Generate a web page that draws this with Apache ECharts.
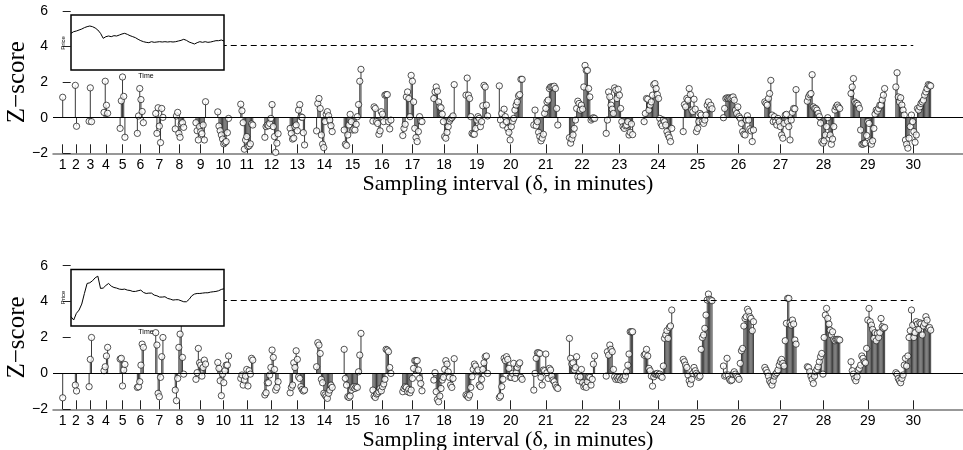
<!DOCTYPE html>
<html>
<head>
<meta charset="utf-8">
<script src="https://cdn.jsdelivr.net/npm/echarts@6/dist/echarts.min.js"></script>
<style>
html,body{margin:0;padding:0;background:#fff;}
#chart{width:963px;height:450px;}
</style>
</head>
<body>
<div id="chart"></div>
<script>
// ---------------- data ----------------
const intervals = ['1','2','3','4','5','6','7','8','9','10','11','12','13','14','15','16','17','18','19','20','21','22','23','24','25','26','27','28','29','30'];
const yTicks = [-2, 0, 2, 4, 6];
const thresholdZ = 4.1;

const topZ = [
  [1.15],
  [1.82, -0.48],
  [-0.2, 1.68, -0.22],
  [0.3, 2.05, 0.7, 0.25],
  [-0.6, 0.95, 2.29, 1.2, -1.1],
  [-0.88, 0.1, 1.64, 1.02, 0.35, -0.28],
  [0.24, -0.88, 0.56, -0.47, -1.4, 0.52, 0.02],
  [-0.63, 0.1, 0.3, -0.88, -1.1, -0.35, -0.28, -0.54],
  [-0.28, -0.73, -1.25, -0.5, -0.78, -0.9, -0.41, -1.25, 0.9],
  [0.33, -0.47, -0.73, -0.97, -1.2, -1.47, -1.4, -1.34, -0.84, -0.04],
  [0.76, 0.39, -0.28, -1.77, -1.25, -1.06, -1.62, -1.58, -1.47, -0.35, -0.41],
  [-1.1, -0.5, -0.41, -0.45, -0.32, -0.04, 0.74, -0.5, -1.06, -1.95, -1.43, -0.9],
  [-0.6, -0.88, -1.2, -1.15, -0.5, -0.41, -0.73, 0.43, 0.74, 0.05, 0.02, -0.84, -1.53],
  [-0.74, 0.8, 1.08, 0.52, -0.97, -1.49, -1.68, -0.22, 0.19, 0.34, 0.11, -0.13, -0.45, -0.78],
  [-0.69, -1.49, -1.56, -0.97, -0.41, 0.19, -0.22, -0.69, -0.63, -0.69, -0.37, 0.06, 0.74, 2.05, 2.72],
  [-0.19, 0.61, 0.52, -0.22, -0.32, -0.93, -0.74, 0.34, 0.2, -0.22, 1.27, 1.3, 1.3, -0.22, -0.63, -0.13],
  [-1.0, -0.6, -0.37, 1.17, 1.45, 1.08, 0.06, 2.38, 2.05, 0.89, -0.6, -1.12, -1.34, -0.78, 0.06, -0.19, -0.22],
  [1.08, 1.45, 1.73, 1.49, 0.89, 0.61, 0.56, 0.2, -0.22, -1.06, -1.15, -0.82, -0.5, -0.19, -0.07, 0.0, 0.1, 1.86],
  [1.27, 2.23, 1.27, 1.08, 0.06, -0.88, -0.93, -0.93, -0.6, -0.13, 0.06, -0.04, -0.5, -0.22, 0.67, 1.82, 1.73, 0.71, 0.1],
  [1.79, -0.13, 0.24, -0.41, 0.48, 0.06, -0.22, -0.6, -0.82, -1.25, -0.5, -0.2, -0.04, 0.43, 0.71, 0.89, 1.23, 1.3, 2.16, 2.16],
  [-0.41, 0.43, -0.45, -0.22, -0.82, -1.06, -1.3, -1.15, -0.93, 0.24, 0.52, 0.89, 0.99, 1.64, 1.73, 1.73, 1.73, 1.77, 1.64, 0.52, -0.41],
  [-1.12, -1.43, -1.19, -0.97, -0.6, -0.13, 0.52, 0.93, 0.8, 0.43, 0.71, 0.48, 1.73, 2.94, 2.66, 2.66, 1.64, 1.17, -0.13, -0.04, 0, -0.04],
  [-0.88, -0.13, 1.45, 1.17, 0.71, 0.48, 0.24, 1.68, 1.55, 1.08, 1.6, 1.27, 0.52, -0.22, -0.5, -0.6, -0.45, -0.41, -0.22, -0.97, -0.82, -0.35, -0.95],
  [-0.22, 0.24, 1.08, 1.04, 0.43, 0.71, 0.89, 1.27, 1.86, 1.92, 1.64, 1.3, 1.08, -0.04, -0.32, -0.45, -0.13, -0.22, -0.41, -0.78, -0.97, -1.12, -1.34, -0.6],
  [-0.78, 0.74, 0.61, 1.08, 0.99, 1.64, 1.3, 0.43, 0.34, 1.04, 0.48, -0.78, -0.6, -0.22, 0.24, 0.15, -0.22, -0.32, -0.13, 0.15, 0.71, 0.89, 0.56, 0.7, 0.5],
  [0, 0.52, 1.08, 1.12, 1.08, 1.12, 1.08, 1.12, 1.17, 0.99, 0.43, 0.24, 0.61, 0.06, -0.04, -0.32, -0.78, -0.93, -0.97, -0.13, 0.11, -0.13, -0.63, -0.74, -1.34, -0.69],
  [0.89, 0.8, 0.71, 1.08, 1.36, 2.1, 0.15, -0.22, 0.06, -0.22, -0.41, -0.04, -0.22, -0.5, -0.97, -1.15, -0.32, 0.15, 0.19, -0.22, -0.5, -1.25, -0.13, 0.3, 0.52, 0.5, 1.58],
  [0.93, 1.17, 1.3, 1.36, 2.42, 0.61, 0.52, 0.52, 0.43, 0.24, 0.06, -0.3, -1.34, -1.43, -1.3, -0.97, -0.5, 0, -1.15, -0.97, -1.49, -1.2, -0.5, 0.43, 0.61, 0.71, 0.6, 0.52],
  [1.36, 1.73, 2.2, 0.89, 0.8, 0.8, 0.71, 0.52, -0.69, -1.49, -1.49, -1.43, -1.43, -1.0, -0.22, -0.32, -1.38, -1.49, -1.3, -0.6, 0.2, 0.43, 0.37, 0.52, 0.71, 0.71, 1.0, 1.27, 1.64],
  [1.73, 2.53, 1.17, 0.89, 1.12, 0.71, 0.43, 0.15, -1.25, -1.49, -1.71, -1.15, -0.5, 0.15, -0.22, -0.78, -1.38, -0.97, 0.52, 0.43, 0.61, 0.8, 0.89, 0.99, 1.27, 1.45, 1.64, 1.86, 1.82, 1.79]
];

const bottomZ = [
  [-1.36],
  [-0.65, -0.98],
  [-0.74, 0.78, 2.0],
  [0.15, 0.37, 0.97, 1.45],
  [0.8, 0.84, -0.7, 0.19, 0.5],
  [-0.78, -0.74, -0.46, 0.46, 1.63, 1.45],
  [2.27, 1.58, -1.11, -1.3, -0.22, 0.93, 2.0],
  [-0.93, -1.52, -0.28, 1.45, 2.19, 2.9, 0.89, -0.04],
  [-0.33, 0.04, 1.39, 0.59, 0.46, -0.15, 0.33, 0.74, 0.52],
  [0.61, 0.28, -0.41, -1.24, -0.04, -0.52, 0.15, 0.46, 0.46, 0.97],
  [-0.28, -0.09, -0.65, -0.37, -0.15, 0.22, -0.7, 0.15, -0.04, 0.84, 0.74],
  [-1.2, -1.08, -0.52, -0.52, -0.09, 0.33, 1.3, 0.89, 0.22, -0.93, -0.78, -0.46],
  [-1.08, -0.78, -0.65, 0.59, 0.33, 1.26, 0.78, -0.19, -0.28, -0.74, -0.89, -0.98, -0.93],
  [0.37, 1.71, 1.58, 1.11, -0.33, -0.52, -1.11, -1.2, -1.3, -1.39, -1.11, -0.93, -0.65, -0.78],
  [1.34, -0.28, -0.65, -1.3, -1.34, -1.26, -0.93, -0.78, -0.74, -0.84, -0.74, -0.78, 0.09, 1.02, 2.23],
  [-0.93, -1.26, -1.34, -1.15, -1.11, -1.02, -0.84, -0.97, -0.74, -0.59, -0.33, 1.34, 1.3, 1.21, 0.33, 0],
  [-1.02, -0.84, -0.74, -0.78, -1.02, -0.89, -1.08, -0.93, -0.28, 0.28, 0.71, 0.71, 0.71, 0.19, -0.28, -0.56, -0.97],
  [-0.37, 0.04, -1.02, -1.45, -1.58, -1.26, -0.84, -0.37, -0.22, 0.22, 0.71, 0.52, 0.09, -0.22, -0.65, -0.78, -0.28, 0.82],
  [-1.2, -1.26, -1.34, -1.2, -0.78, -0.19, 0.22, 0.52, 0.41, 0.09, 0.19, -0.65, -0.74, -0.33, 0.22, 0.59, 0.93, 0.97, 0],
  [-1.34, -1.26, -0.74, -0.33, 0.84, 0.71, 0.93, 0.78, 0.28, -0.22, -0.22, 0, 0.56, -0.28, 0.04, 0.33, 0.52, 0.59, -0.22, -0.33],
  [-0.93, 0, 0.84, 1.15, 1.15, 1.11, -0.22, -0.65, 0.19, 0.15, 1.08, 0.04, -0.28, 0.28, 0.19, -0.15, -0.37, -0.46, -0.65, -0.78, -0.84],
  [1.95, 0.84, 0.52, 0.59, 0.19, 0.33, 0.93, -0.19, -0.41, -0.19, 0.22, -0.52, -0.74, -0.65, -0.78, -0.46, -0.19, -0.22, -0.65, -0.33, 0.52, 0.97],
  [-0.15, 1.21, 1.02, 1.58, 1.34, 1.21, 0.22, -0.19, -0.33, -0.22, -0.33, -0.22, -0.37, -0.28, -0.22, -0.33, -0.15, 0.09, 0.46, 1.08, 2.32, 2.32, 2.32],
  [1.02, 1.08, 1.34, 0.97, 0.28, 0.15, -0.15, -0.71, -0.19, -0.04, -0.04, 0, -0.09, -0.04, -0.15, -0.22, 0.41, 1.95, 2.14, 2.38, 1.95, 2.56, 2.64, 3.53],
  [0.78, 0.65, 0.46, 0.33, -0.09, -0.41, -0.59, -0.33, 0, 0.33, 0.15, 0, -0.09, -0.22, -0.15, 1.34, 2.0, 2.14, 2.51, 3.25, 4.09, 4.42, 4.13, 4.09, 4.05],
  [0.41, -0.15, -0.09, 0.84, -0.09, -0.33, -0.41, -0.37, -0.04, 0.09, -0.04, -0.15, -0.22, -0.33, 0.56, 1.26, 1.39, 2.64, 3.06, 3.16, 3.57, 3.44, 3.16, 3.06, 2.38, 2.88],
  [0.33, 0.19, 0.04, -0.15, -0.41, -0.52, -0.65, -0.41, -0.15, -0.04, 0.04, 0.19, 0.46, 0.65, 0.78, 0.56, 0.41, 1.82, 2.79, 4.18, 4.18, 2.82, 2.69, 2.97, 2.75, 1.86, 1.63],
  [0.37, 0.33, 0.09, -0.15, -0.33, -0.56, -0.15, 0.09, 0.22, 0.37, 0.65, 0.93, 1.11, -0.04, 2.0, 3.25, 3.62, 3.06, 2.75, 2.41, 2.14, 2.32, 1.89, 1.82, 1.89, 1.89, 1.89, 1.86],
  [0.65, 0.15, -0.04, -0.28, -0.41, -0.19, 0.19, 0.28, 0.46, 0.97, 0.84, 0.65, 0.59, 1.39, 2.97, 3.62, 2.88, 2.69, 2.45, 1.95, 2.27, 1.82, 2.23, 2.0, 2.27, 3.06, 2.6, 2.51, 2.56],
  [0.04, -0.04, -0.28, -0.41, -0.52, -0.28, -0.09, 0.46, 0.84, 0.41, 0.97, 2.0, 2.38, 3.53, 2.69, 2.0, 2.27, 2.88, 2.75, 2.45, 2.82, 2.75, 2.14, 2.64, 2.79, 3.16, 2.97, 2.51, 2.56, 2.41]
];

const topInsetPrice = [66.7, 69.7, 70.9, 72.7, 74.5, 77.0, 78.8, 80.0, 78.8, 76.4, 72.7, 66.7, 57.6, 60.6, 61.8, 60.6, 62.4, 61.8, 63.6, 65.5, 66.7, 64.8, 62.4, 60.6, 58.8, 55.8, 53.3, 51.5, 50.3, 49.7, 51.5, 50.3, 50.9, 51.5, 50.9, 51.5, 50.9, 51.5, 50.9, 51.5, 52.7, 53.9, 55.8, 53.9, 50.9, 49.1, 47.3, 49.7, 51.5, 50.3, 51.5, 50.3, 50.9, 52.1, 53.3, 53.3, 54.5, 52.7];
const bottomInsetPrice = [16.5, 10.6, 22.4, 28.2, 38.8, 57.6, 75.3, 76.5, 80.0, 85.3, 88.2, 66.5, 67.1, 71.8, 75.3, 70.6, 68.2, 67.1, 65.3, 64.7, 65.3, 63.5, 62.9, 61.2, 61.2, 62.4, 63.5, 59.4, 57.6, 58.2, 58.2, 54.7, 53.5, 51.2, 51.2, 51.8, 48.8, 47.6, 45.9, 46.5, 46.5, 44.7, 42.9, 42.9, 47.1, 53.5, 56.5, 57.6, 57.6, 58.2, 58.8, 58.8, 60.0, 60.6, 61.2, 62.4, 64.7, 65.9];

// ---------------- layout ----------------
const W = 963;
const GL = 53;                     // grid left (px)
const FIRST_CENTER_PX = 62.7;      // px position of interval 1
const GAP_A = 12.08, GAP_B = 1.15; // spacing between consecutive group centres
const STEP = 1.2;                  // spacing between stems inside a group
const centers = [];
(function(){ let c = 0; for (let k = 1; k <= intervals.length; k++) { centers.push(c); c += GAP_A + GAP_B * k; } })();
const xMin = GL - FIRST_CENTER_PX;
const xMax = xMin + (W - GL);

function buildPoints(groups) {
  const pts = [];
  groups.forEach((vals, gi) => {
    const n = vals.length;
    vals.forEach((v, j) => { pts.push([centers[gi] + (j - (n - 1) / 2) * STEP, v]); });
  });
  return pts;
}
const topPts = buildPoints(topZ);
const botPts = buildPoints(bottomZ);

const panels = [
  { top: 11, height: 142.3, pts: topPts, inset: { left: 71, top: 15, width: 153, height: 55 }, price: topInsetPrice },
  { top: 265.7, height: 143.6, pts: botPts, inset: { left: 71, top: 269.5, width: 153, height: 56.5 }, price: bottomInsetPrice }
];

const sansFont = "'Liberation Sans', Arial, Helvetica, sans-serif";
const serifFont = "'Liberation Serif', 'Times New Roman', serif";

function labelFor(v) {
  for (let i = 0; i < centers.length; i++) if (Math.abs(centers[i] - v) < 0.01) return intervals[i];
  return '';
}

const grid = [], xAxis = [], yAxis = [], series = [], graphic = [];
panels.forEach((p, pi) => {
  grid.push({ left: GL, right: 0, top: p.top, height: p.height, containLabel: false, outerBoundsMode: 'none' });
  xAxis.push({
    type: 'value', gridIndex: pi, min: xMin, max: xMax,
    name: 'Sampling interval (δ, in minutes)', nameLocation: 'middle', nameGap: 12,
    nameTextStyle: { fontFamily: serifFont, fontSize: 22, color: '#000' },
    axisLine: { show: true, onZero: false, lineStyle: { color: '#777', width: 1.5 } },
    axisTick: { show: true, inside: true, length: 9, customValues: centers, lineStyle: { color: '#222', width: 1 } },
    axisLabel: { show: true, customValues: centers, formatter: labelFor, margin: 5, fontFamily: sansFont, fontSize: 14, color: '#000' },
    splitLine: { show: false }
  });
  yAxis.push({
    type: 'value', gridIndex: pi, min: yTicks[0], max: yTicks[yTicks.length - 1], interval: 2,
    name: 'Z−score', nameLocation: 'middle', nameGap: 23, nameMoveOverlap: false,
    nameTextStyle: { fontFamily: serifFont, fontSize: 25, color: '#000' },
    axisLine: { show: false },
    axisTick: { show: true, inside: true, length: 8, lineStyle: { color: '#222' } },
    axisLabel: { margin: 5, fontFamily: sansFont, fontSize: 14, color: '#000',
      formatter: v => (v < 0 ? '−' + Math.abs(v) : String(v)) },
    splitLine: { show: false }
  });
  series.push({
    type: 'custom', xAxisIndex: pi, yAxisIndex: pi, z: 2, silent: true,
    data: p.pts,
    renderItem: function (params, api) {
      const x = api.value(0), y = api.value(1);
      const a = api.coord([x, 0]), b = api.coord([x, y]);
      return { type: 'line', shape: { x1: a[0], y1: a[1], x2: b[0], y2: b[1] }, style: { stroke: '#3a3a3a', lineWidth: 1 } };
    },
    markLine: {
      silent: true, symbol: 'none', label: { show: false },
      data: [
        [{ coord: [xMin, 0], lineStyle: { type: 'solid', color: '#000', width: 1 } }, { coord: [xMax, 0] }],
        [{ coord: [centers[8], thresholdZ], lineStyle: { type: [6, 4], color: '#000', width: 1 } }, { coord: [centers[29], thresholdZ] }]
      ]
    }
  });
  series.push({
    type: 'scatter', xAxisIndex: pi, yAxisIndex: pi, z: 3, silent: true,
    symbol: 'circle', symbolSize: 6.3,
    itemStyle: { color: '#fff', borderColor: '#111', borderWidth: 0.9 },
    data: p.pts
  });
});

// insets
panels.forEach((p, pi) => {
  const gi = 2 + pi;
  const r = p.inset;
  grid.push({ left: r.left, top: r.top, width: r.width, height: r.height, outerBoundsMode: 'none' });
  xAxis.push({ type: 'value', gridIndex: gi, min: 0, max: p.price.length - 1, show: false });
  yAxis.push({ type: 'value', gridIndex: gi, min: 0, max: 100, show: false });
  series.push({
    type: 'line', xAxisIndex: gi, yAxisIndex: gi, z: 101, silent: true, showSymbol: false,
    lineStyle: { color: '#000', width: 1 },
    data: p.price.map((v, i) => [i, v])
  });
  graphic.push({ type: 'rect', z: 100, shape: { x: r.left, y: r.top, width: r.width, height: r.height },
    style: { fill: '#fff', stroke: '#000', lineWidth: 1.5 } });
  graphic.push({ type: 'text', z: 101, x: r.left - 8, y: r.top + 28, rotation: Math.PI / 2,
    style: { text: 'Price', font: "6px " + sansFont, fill: '#000', align: 'center', verticalAlign: 'middle' } });
  graphic.push({ type: 'text', z: 101, x: r.left + 75, y: r.top + r.height + 6, 
    style: { text: 'Time', font: "7px " + sansFont, fill: '#000', align: 'center', verticalAlign: 'middle' } });
});

const chart = echarts.init(document.getElementById('chart'), null, { renderer: 'canvas' });
chart.setOption({ animation: false, backgroundColor: '#fff', grid, xAxis, yAxis, series, graphic });
</script>
</body>
</html>
